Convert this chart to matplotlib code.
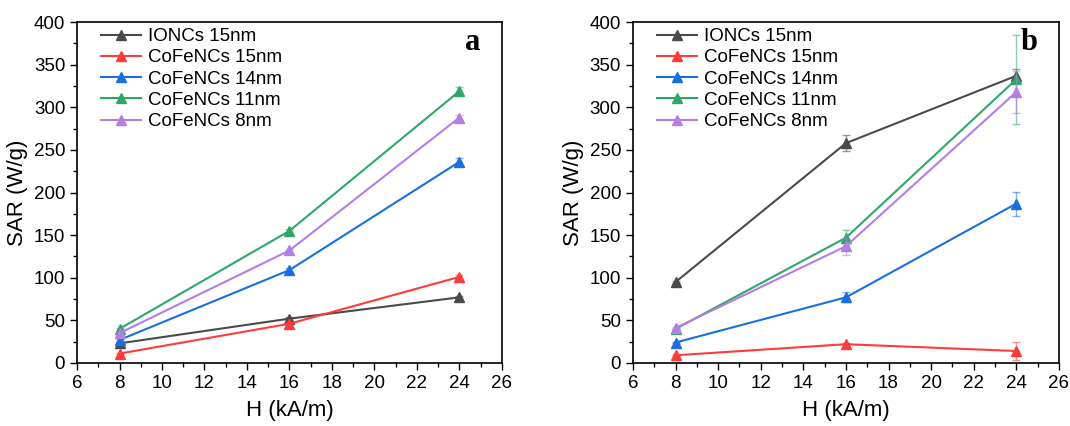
import matplotlib
matplotlib.use("Agg")
import matplotlib.pyplot as plt
from matplotlib.ticker import MultipleLocator

H = [8, 16, 24]
labels = ["IONCs 15nm", "CoFeNCs 15nm", "CoFeNCs 14nm", "CoFeNCs 11nm", "CoFeNCs 8nm"]
colors = ["#4a4a4a", "#ff3b3b", "#1a6fe0", "#2ea86a", "#b47ee6"]

# panel a
sar_a_ion15 = [23, 52, 77]
sar_a_cofe15 = [11, 46, 101]
sar_a_cofe14 = [27, 109, 236]
sar_a_cofe11 = [40, 155, 319]
sar_a_cofe8 = [35, 132, 288]
err_a_ion15 = [1, 2, 2]
err_a_cofe15 = [1, 2, 2]
err_a_cofe14 = [1, 2, 5]
err_a_cofe11 = [1, 2, 5]
err_a_cofe8 = [1, 2, 3]

# panel b
sar_b_ion15 = [95, 258, 337]
sar_b_cofe15 = [9, 22, 14]
sar_b_cofe14 = [24, 77, 187]
sar_b_cofe11 = [40, 147, 333]
sar_b_cofe8 = [41, 137, 318]
err_b_ion15 = [1, 9, 8]
err_b_cofe15 = [1, 2, 11]
err_b_cofe14 = [1, 6, 14]
err_b_cofe11 = [1, 9, 52]
err_b_cofe8 = [1, 10, 25]

plt.rcParams["font.family"] = ["Liberation Sans", "DejaVu Sans"]

fig = plt.figure(figsize=(10.7, 4.26), dpi=100)
ax_a = fig.add_axes([0.072, 0.148, 0.397, 0.800])
ax_b = fig.add_axes([0.5916, 0.148, 0.398, 0.800])

panels = [
    (ax_a, "a", [sar_a_ion15, sar_a_cofe15, sar_a_cofe14, sar_a_cofe11, sar_a_cofe8],
     [err_a_ion15, err_a_cofe15, err_a_cofe14, err_a_cofe11, err_a_cofe8]),
    (ax_b, "b", [sar_b_ion15, sar_b_cofe15, sar_b_cofe14, sar_b_cofe11, sar_b_cofe8],
     [err_b_ion15, err_b_cofe15, err_b_cofe14, err_b_cofe11, err_b_cofe8]),
]

for ax, tag, series, errs in panels:
    for ys, es, c, lab in zip(series, errs, colors, labels):
        ax.errorbar(H, ys, yerr=es, fmt="none", ecolor=c, alpha=0.55,
                    elinewidth=1, capsize=3, capthick=1)
        ax.plot(H, ys, color=c, marker="^", markersize=7, linewidth=1.5, label=lab)
    ax.set_xlim(6, 26)
    ax.set_ylim(0, 400)
    ax.xaxis.set_major_locator(MultipleLocator(2))
    ax.xaxis.set_minor_locator(MultipleLocator(1))
    ax.yaxis.set_major_locator(MultipleLocator(50))
    ax.yaxis.set_minor_locator(MultipleLocator(25))
    ax.tick_params(which="both", direction="out", labelsize=13.5, width=1)
    ax.tick_params(which="major", length=5)
    ax.tick_params(which="minor", length=3)
    for s in ax.spines.values():
        s.set_linewidth(1.2)
    ax.set_xlabel("H (kA/m)", fontsize=16, labelpad=6)
    ax.set_ylabel("SAR (W/g)", fontsize=16, labelpad=4)
    ax.legend(loc="upper left", frameon=False, fontsize=13.5, handlelength=2.1,
              handletextpad=0.4, labelspacing=0.22, borderaxespad=0.1,
              bbox_to_anchor=(0.035, 1.01))
    ax.text(0.95, 0.94, tag, transform=ax.transAxes, ha="right", va="center",
            fontsize=22, fontweight="bold", family="Liberation Serif")

fig.savefig("out.png", dpi=100)
